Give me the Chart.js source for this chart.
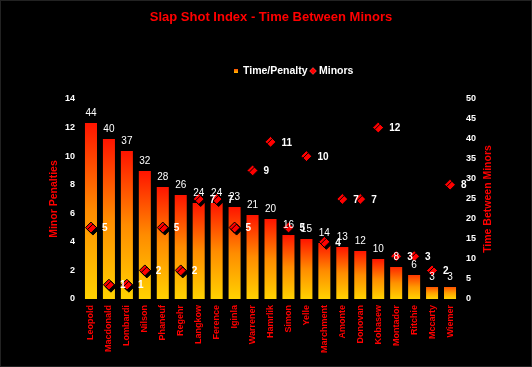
<!DOCTYPE html>
<html>
<head>
<meta charset="utf-8">
<script src="https://cdn.jsdelivr.net/npm/chart.js@4/dist/chart.umd.min.js"></script>
<style>
  html, body { margin: 0; padding: 0; background: #000; }
  #wrap { width: 532px; height: 367px; }
</style>
</head>
<body>
<div id="wrap"><canvas id="chart"></canvas></div>
<script>
const players = ['Leopold', 'Macdonald', 'Lombardi', 'Nilson', 'Phaneuf', 'Regehr', 'Langkow',
    'Ference', 'Iginla', 'Warrener', 'Hamrlik', 'Simon', 'Yelle', 'Marchment', 'Amonte',
    'Donovan', 'Kobasew', 'Montador', 'Ritchie', 'Mccarty', 'Wiemer'];
const timePerPenalty = [44, 40, 37, 32, 28, 26, 24, 24, 23, 21, 20, 16, 15, 14, 13, 12, 10, 8, 6, 3, 3];
const minors = [5, 1, 1, 2, 5, 2, 7, 7, 5, 9, 11, 5, 10, 4, 7, 7, 12, 3, 3, 2, 8];
const minorTicks = [0, 2, 4, 6, 8, 10, 12, 14];
const timeTicks = [0, 5, 10, 15, 20, 25, 30, 35, 40, 45, 50];

const RED = '#ff0000';
const FONT = '"Liberation Sans", Arial, sans-serif';

// each bar runs red at the top to yellow at the base, short bars stay orange
function barFill(context) {
    const chart = context.chart;
    if (!chart.chartArea || context.type !== 'data') return '#ff8c00';
    const scale = chart.scales.y1;
    const top = scale.getPixelForValue(context.parsed.y);
    const bottom = scale.getPixelForValue(0);
    const t = Math.min(1, (bottom - top) / 40);
    const g = chart.ctx.createLinearGradient(0, top, 0, bottom);
    g.addColorStop(0, `rgb(255, ${Math.round(110 - 90 * t)}, 0)`);
    g.addColorStop(0.5, `rgb(255, ${Math.round(170 - 30 * t)}, 0)`);
    g.addColorStop(1, '#ffd200');
    return g;
}

const background = {
    id: 'background',
    beforeDraw(chart) {
        const ctx = chart.ctx;
        ctx.save();
        ctx.fillStyle = '#000';
        ctx.fillRect(0, 0, chart.width, chart.height);
        ctx.strokeStyle = '#222';
        ctx.strokeRect(0.5, 0.5, chart.width - 1, chart.height - 1);
        ctx.restore();
    }
};

const diamondShadow = {
    id: 'diamondShadow',
    beforeDatasetDraw(chart, args) {
        if (args.index !== 1) return;
        const ctx = chart.ctx;
        ctx.save();
        ctx.shadowColor = '#000';
        ctx.shadowOffsetX = 2;
        ctx.shadowOffsetY = 2;
        ctx.shadowBlur = 0;
    },
    afterDatasetDraw(chart, args) {
        if (args.index === 1) chart.ctx.restore();
    }
};

const valueLabels = {
    id: 'valueLabels',
    afterDatasetsDraw(chart) {
        const ctx = chart.ctx;
        ctx.save();
        ctx.fillStyle = '#fff';
        ctx.font = '10px ' + FONT;
        ctx.textAlign = 'center';
        ctx.textBaseline = 'bottom';
        chart.getDatasetMeta(0).data.forEach((bar, i) => {
            ctx.fillText(timePerPenalty[i], bar.x, bar.y - 5);
        });
        ctx.font = 'bold 10px ' + FONT;
        ctx.textAlign = 'left';
        ctx.textBaseline = 'middle';
        chart.getDatasetMeta(1).data.forEach((pt, i) => {
            ctx.fillText(minors[i], pt.x + 11, pt.y + 1);
        });
        ctx.restore();
    }
};

// legend and the right axis title (which reads bottom-to-top here)
const extras = {
    id: 'extras',
    afterDraw(chart) {
        const ctx = chart.ctx;
        const cx = chart.width / 2;
        const ly = 71;
        ctx.save();
        const g = ctx.createLinearGradient(0, ly - 2, 0, ly + 2);
        g.addColorStop(0, '#ff5000');
        g.addColorStop(1, '#ffc000');
        ctx.fillStyle = g;
        ctx.fillRect(cx - 32, ly - 2, 4, 4);
        ctx.fillStyle = '#fff';
        ctx.font = 'bold 10.5px ' + FONT;
        ctx.textBaseline = 'middle';
        ctx.textAlign = 'left';
        ctx.fillText(chart.data.datasets[0].label, cx - 23, ly);
        Chart.helpers.drawPoint(ctx, {
            pointStyle: 'rectRot', radius: 3.5, borderWidth: 0, rotation: 0
        }, cx + 47, ly);
        ctx.fillStyle = RED;
        ctx.fill();
        ctx.fillStyle = '#fff';
        ctx.fillText(chart.data.datasets[1].label, cx + 53, ly);

        const area = chart.chartArea;
        ctx.translate(488, (area.top + area.bottom) / 2);
        ctx.rotate(-Math.PI / 2);
        ctx.textAlign = 'center';
        ctx.fillStyle = RED;
        ctx.fillText('Time Between Minors', 0, 0);
        ctx.restore();
    }
};

new Chart(document.getElementById('chart'), {
    type: 'bar',
    data: {
        labels: players,
        datasets: [
            {
                label: 'Time/Penalty',
                data: timePerPenalty,
                yAxisID: 'y1',
                backgroundColor: barFill,
                borderWidth: 0,
                barPercentage: 0.67,
                categoryPercentage: 1,
                order: 1
            },
            {
                type: 'line',
                label: 'Minors',
                data: minors,
                yAxisID: 'y',
                showLine: false,
                pointStyle: 'rectRot',
                pointRadius: 5.5,
                pointBackgroundColor: RED,
                pointBorderColor: '#000',
                pointBorderWidth: 1,
                order: 0
            }
        ]
    },
    options: {
        responsive: true,
        maintainAspectRatio: false,
        animation: false,
        layout: {
            padding: { left: 48, right: 38, top: 0, bottom: 8 }
        },
        plugins: {
            legend: { display: false },
            tooltip: { enabled: false },
            title: {
                display: true,
                text: 'Slap Shot Index - Time Between Minors',
                color: RED,
                font: { family: FONT, size: 13, weight: 'bold', lineHeight: 1 },
                padding: { top: 11, bottom: 75 }
            }
        },
        scales: {
            x: {
                grid: { display: false, drawTicks: false },
                border: { display: false },
                afterFit: s => { s.height = 60; },
                ticks: {
                    color: RED,
                    font: { family: FONT, size: 9, weight: 'bold' },
                    autoSkip: false,
                    minRotation: 90,
                    maxRotation: 90,
                    padding: 6
                }
            },
            y: {
                position: 'left',
                min: 0,
                max: 14,
                afterBuildTicks: s => { s.ticks = minorTicks.map(v => ({ value: v })); },
                afterFit: s => { s.width = 34; },
                grid: { display: false, drawTicks: false },
                border: { display: false },
                ticks: {
                    color: '#fff',
                    font: { family: FONT, size: 9, weight: 'bold' },
                    padding: 7
                },
                title: {
                    display: true,
                    text: 'Minor Penalties',
                    color: RED,
                    font: { family: FONT, size: 10.5, weight: 'bold' },
                    padding: 0
                }
            },
            y1: {
                position: 'right',
                min: 0,
                max: 50,
                afterBuildTicks: s => { s.ticks = timeTicks.map(v => ({ value: v })); },
                afterFit: s => { s.width = 35; },
                grid: { display: false, drawTicks: false },
                border: { display: false },
                ticks: {
                    color: '#fff',
                    font: { family: FONT, size: 9, weight: 'bold' },
                    padding: 7
                }
            }
        }
    },
    plugins: [background, diamondShadow, valueLabels, extras]
});
</script>
</body>
</html>
